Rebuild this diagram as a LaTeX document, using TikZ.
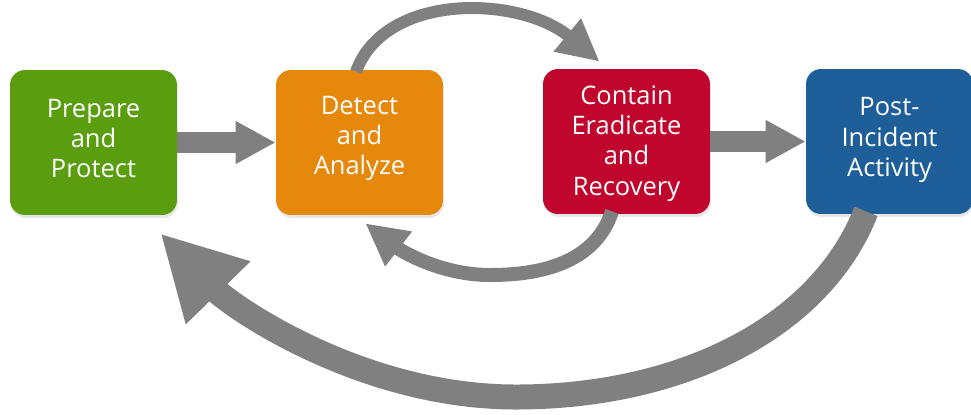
\documentclass[tikz,border=0pt]{standalone}
\usepackage{fontspec}
\newfontfamily\boxfont{Open Sans}
\usetikzlibrary{arrows.meta,shadows}
\definecolor{prepgreen}{HTML}{5A9E10}
\definecolor{detorange}{HTML}{E6880B}
\definecolor{contred}{HTML}{C0062C}
\definecolor{postblue}{HTML}{1E5E99}
\definecolor{flowgrey}{HTML}{808080}
\begin{document}
\begin{tikzpicture}[x=0.02cm,y=-0.02cm,
  phase/.style={rounded corners=0.3cm, minimum width=3.34cm, minimum height=2.9cm,
    inner sep=0pt,
    drop shadow={opacity=0.2, shadow xshift=0.02cm, shadow yshift=-0.06cm}},
  phasetext/.style={text=white, align=center, inner sep=0pt,
    font=\boxfont\fontsize{14.5}{17.3}\selectfont},
  straightflow/.style={draw=flowgrey, line width=0.42cm,
    -{Triangle[length=0.8cm, width=0.8cm]}},
  toparc/.style={draw=flowgrey, line width=0.24cm,
    -{Triangle[length=0.84cm, width=0.8cm]}},
  smallarc/.style={draw=flowgrey, line width=0.28cm,
    -{Triangle[length=0.84cm, width=0.82cm]}},
  bigarc/.style={draw=flowgrey, line width=0.5cm,
    -{Triangle[length=1.66cm, width=1.68cm]}}
]
\useasboundingbox (0,0) rectangle (971,414);

% the four phases
\node[phase, fill=prepgreen] (prep) at (93.5,142.5) {};
\node[phase, fill=detorange] (det)  at (359.5,142.5) {};
\node[phase, fill=contred]   (cont) at (626.5,141.5) {};
\node[phase, fill=postblue]  (post) at (889.5,141.5) {};

% their titles
\node[phasetext] (prepL) at ([yshift=0.08cm]prep.center) {Prepare\\and\\Protect};
\node[phasetext] (detL)  at ([yshift=0.08cm]det.center)  {Detect\\and\\Analyze};
\node[phasetext] (contL) at ([yshift=-0.04cm]cont.center) {Contain\\Eradicate\\and\\Recovery};
\node[phasetext] (postL) at ([yshift=0.03cm]post.center) {Post-\\Incident\\Activity};

% straight hand-overs
\draw[straightflow] (prep.east) -- (det.west);
\draw[straightflow] (cont.east) -- (post.west);

% detect -> contain, over the top
\draw[toparc] ([xshift=-0.07cm,yshift=-0.04cm]det.north)
  .. controls +(29,-80) and +(-80,-66) ..
  ([xshift=1.14cm,yshift=0.14cm]cont.north west);

% contain -> detect, underneath
\coordinate (lowturn) at (490,275);
\draw[smallarc] ([xshift=-0.29cm,yshift=0.06cm]cont.south)
  .. controls +(-17,52) and +(50,0) .. (lowturn)
  .. controls +(-50,0) and +(35,27) ..
  ([xshift=-1.56cm,yshift=-0.16cm]det.south east);

% post-incident -> prepare, the long way round
\coordinate (bigturn) at (516,397);
\draw[bigarc] ([xshift=-0.47cm,yshift=0.06cm]post.south)
  .. controls +(-46,117) and +(164,0) .. (bigturn)
  .. controls +(-156,0) and +(70,72) ..
  ([xshift=-0.34cm,yshift=-0.36cm]prep.south east);
\end{tikzpicture}
\end{document}
